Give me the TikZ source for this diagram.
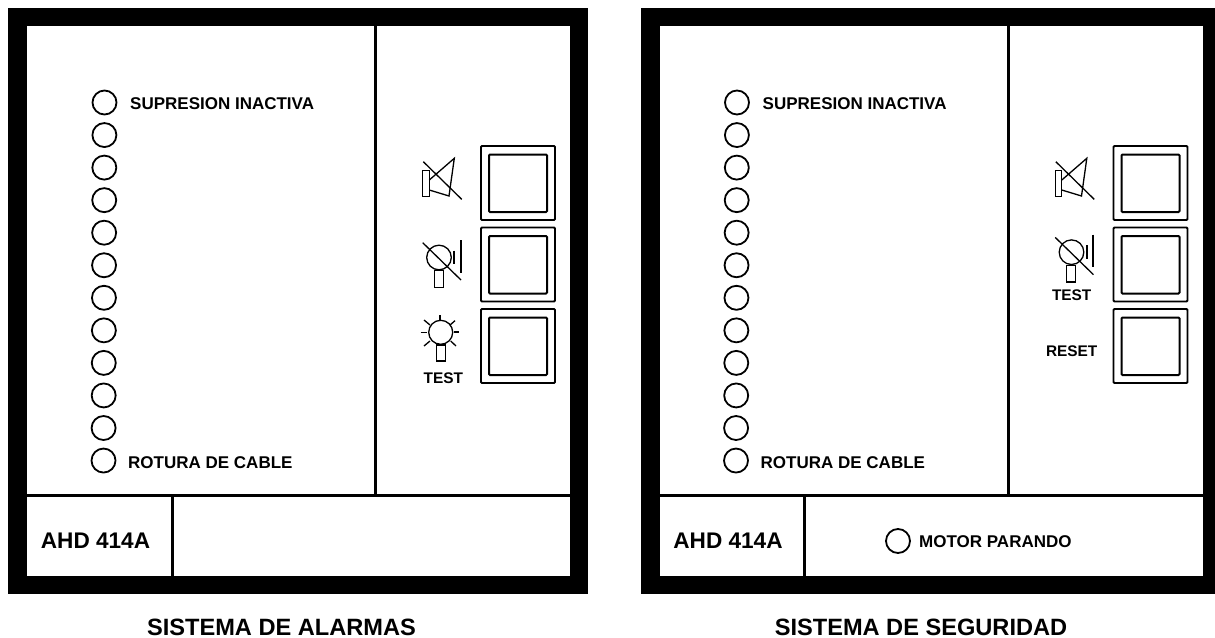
\documentclass[tikz,border=0pt]{standalone}
\usepackage{fontspec}
\setmainfont{Liberation Sans}
\tikzset{
  px/.style={x=1pt,y=-1pt},
  frameblk/.style={fill=black,draw=none},
  innerpanel/.style={fill=white,draw=none},
  divider/.style={draw=black,line width=3pt},
  lamp/.style={draw=black,line width=1.8pt,circle,inner sep=0pt,minimum size=24pt},
  lbl/.style={font=\bfseries\fontsize{17}{18}\selectfont,inner sep=0pt,anchor=west},
  smalllbl/.style={font=\bfseries\fontsize{15.4}{17}\selectfont,inner sep=0pt},
  model/.style={font=\bfseries\fontsize{22.6}{24}\selectfont,inner sep=0pt},
  titlelbl/.style={font=\bfseries\fontsize{23.6}{26}\selectfont,inner sep=0pt},
  btnout/.style={draw=black,line width=1.8pt,rounded corners=1pt},
  btnin/.style={draw=black,line width=2pt,rounded corners=1pt},
  icon/.style={draw=black,line width=1.3pt},
  iconb/.style={draw=black,line width=1.7pt},
}
\newcommand{\panelbody}[1]{%
  \fill[frameblk] (8,7.5) rectangle (588,594);
  \fill[innerpanel] (27,26) rectangle (570,576);
  \draw[divider] (375.5,26) -- (375.5,495);
  \draw[divider] (27,495) -- (570,495);
  \draw[divider] (172,495) -- (172,576);
  \foreach \i in {0,...,11} {
    \node[lamp] (#1lamp\i) at ({104.5-\i*0.09},{102.5+\i*32.55}) {};
  }
  \node[lbl] (#1top) at (130,103.5) {SUPRESION INACTIVA};
  \node[lbl] (#1bot) at (128,462.5) {ROTURA DE CABLE};
  \node[model] (#1model) at (95.5,541) {AHD 414A};
  \foreach \n/\y in {a/146,b/227.5,c/309} {
    \draw[btnout] (481,\y) rectangle (555,\y+74);
    \draw[btnin] (489,\y+8.5) rectangle (547,\y+66);
  }
  % speaker
  \draw[icon] (422.7,170.7) rectangle (429.3,196.7);
  \draw[icon] (429.3,180) -- (454.3,158.3) -- (449,196) -- (429.3,190);
  \draw[icon] (423.3,161.7) -- (461.7,199.3);
}
\newcommand{\crossedbulb}{%
  \draw[icon] (439,257.5) circle (12.3);
  \draw[icon] (434.3,270.7) rectangle (443.3,287.3);
  \draw[iconb] (454.3,250.7) -- (454.3,264);
  \draw[iconb] (460.7,240) -- (460.7,272.7);
  \draw[icon] (422.7,242.7) -- (461,280);
}
\begin{document}
\begin{tikzpicture}[px]
\useasboundingbox (0,0) rectangle (1215,637);
\fill[white] (0,0) rectangle (1215,637);
\begin{scope}
  \panelbody{L}
  \crossedbulb
  \draw[icon] (440.7,332.3) circle (12);
  \draw[icon] (436.7,345) rectangle (445.3,361);
  \draw[iconb] (440,315) -- (440,320);
  \draw[iconb] (454,332.3) -- (459.3,332.3);
  \draw[icon] (420.7,332.3) -- (427.3,332.3);
  \draw[icon] (424,320) -- (430,325);
  \draw[icon] (455,320.7) -- (450,325);
  \draw[icon] (424,346) -- (430,341);
  \draw[icon] (456,346) -- (450.7,341);
  \node[smalllbl] (Ltest) at (443.3,378.5) {TEST};
\end{scope}
\node[titlelbl] (Lcap) at (281.5,627.3) {SISTEMA DE ALARMAS};
\begin{scope}[xshift=632.5pt]
  \panelbody{R}
  \begin{scope}[yshift=5.3pt]
    \crossedbulb
  \end{scope}
  \node[smalllbl] (Rtest) at (439.2,295) {TEST};
  \node[smalllbl] (Rreset) at (439.2,351) {RESET};
  \node[lamp] (Rmotor) at (265.5,541) {};
  \node[lbl] (Rmotorlbl) at (286.5,542) {MOTOR PARANDO};
\end{scope}
\node[titlelbl] (Rcap) at (921,627.3) {SISTEMA DE SEGURIDAD};
\end{tikzpicture}
\end{document}
